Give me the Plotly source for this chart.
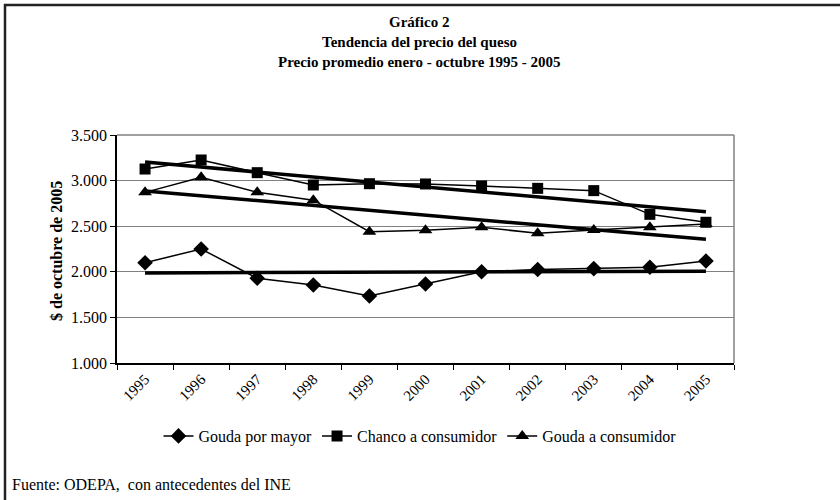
import numpy as np
import plotly.graph_objects as go

years = ["1995", "1996", "1997", "1998", "1999", "2000", "2001", "2002", "2003", "2004", "2005"]
gouda_mayor = [2100, 2250, 1930, 1855, 1735, 1866, 2001, 2025, 2035, 2050, 2118]
chanco_consumidor = [3127, 3226, 3087, 2952, 2966, 2963, 2941, 2915, 2890, 2630, 2543]
gouda_consumidor = [2871, 3036, 2871, 2785, 2440, 2455, 2488, 2422, 2458, 2488, 2525]
y_ticks = [1000, 1500, 2000, 2500, 3000, 3500]

series = [
    ("Gouda por mayor", gouda_mayor, "diamond", 12),
    ("Chanco a consumidor", chanco_consumidor, "square", 11),
    ("Gouda a consumidor", gouda_consumidor, "triangle-up", 12),
]

FONT = "Liberation Serif"
fig = go.Figure()

xi = np.arange(len(years))
for name, vals, sym, sz in series:
    slope, icpt = np.polyfit(xi, np.array(vals, dtype=float), 1)
    trend = slope * xi + icpt
    fig.add_trace(go.Scatter(x=years, y=trend, mode="lines", showlegend=False,
                             line=dict(color="black", width=3.5), hoverinfo="skip"))

for name, vals, sym, sz in series:
    fig.add_trace(go.Scatter(x=years, y=vals, mode="lines+markers", name=name,
                             line=dict(color="black", width=1.5),
                             marker=dict(symbol=sym, size=sz, color="black")))

# plot area geometry
L, R, T, B = 117, 734, 135, 363
W, H = R - L, B - T
def px(x):
    return (x - L) / W
def py(y):
    return (B - y) / H

shapes = [
    dict(type="line", xref="paper", yref="paper", x0=0, x1=1, y0=1, y1=1, line=dict(color="#808080", width=1.5)),
    dict(type="line", xref="paper", yref="paper", x0=1, x1=1, y0=0, y1=1, line=dict(color="#808080", width=1.5)),
    dict(type="line", xref="paper", yref="paper", x0=px(4), x1=px(842), y0=py(5), y1=py(5), line=dict(color="#222", width=2.5)),
    dict(type="line", xref="paper", yref="paper", x0=px(5), x1=px(5), y0=py(4), y1=py(502), line=dict(color="#222", width=2.5)),
]

annotations = [
    dict(text="<b>Gráfico 2</b>", x=px(419), y=py(22), xref="paper", yref="paper", showarrow=False,
         font=dict(family=FONT, size=15, color="black"), xanchor="center", yanchor="middle"),
    dict(text="<b>Tendencia del precio del queso</b>", x=px(419), y=py(42), xref="paper", yref="paper", showarrow=False,
         font=dict(family=FONT, size=15, color="black"), xanchor="center", yanchor="middle"),
    dict(text="<b>Precio promedio enero - octubre 1995 - 2005</b>", x=px(419), y=py(62), xref="paper", yref="paper", showarrow=False,
         font=dict(family=FONT, size=15, color="black"), xanchor="center", yanchor="middle"),
    dict(text="<b>$ de octubre de 2005</b>", x=px(56), y=py(251), xref="paper", yref="paper", showarrow=False,
         textangle=-90, font=dict(family=FONT, size=16, color="black"), xanchor="center", yanchor="middle"),
    dict(text="Fuente: ODEPA,\u00a0 con antecedentes del INE", x=px(10), y=py(484), xref="paper", yref="paper",
         showarrow=False, font=dict(family=FONT, size=16, color="black"), xanchor="left", yanchor="middle"),
]

fig.update_layout(
    width=840, height=500,
    margin=dict(l=L, r=840 - R, t=T, b=500 - B),
    paper_bgcolor="white", plot_bgcolor="white",
    separators=",.",
    font=dict(family=FONT, size=16, color="black"),
    showlegend=True,
    legend=dict(orientation="h", x=px(420), xanchor="center", y=py(436), yanchor="middle",
                font=dict(family=FONT, size=16, color="black"), itemwidth=30, traceorder="normal"),
    shapes=shapes,
    annotations=annotations,
    xaxis=dict(type="category", tickangle=-45, ticks="outside", tickson="boundaries", ticklen=5,
               tickcolor="black", showline=True, linecolor="black", linewidth=1.5, showgrid=False,
               tickfont=dict(family=FONT, size=15, color="black"), range=[-0.5, 10.5]),
    yaxis=dict(range=[1000, 3500], tickvals=y_ticks, tickformat=",.0f", ticks="outside", ticklen=5,
               tickcolor="black", showline=True, linecolor="black", linewidth=1.5,
               showgrid=True, gridcolor="#808080", gridwidth=1, zeroline=False,
               tickfont=dict(family=FONT, size=16, color="black")),
)

fig.write_html("out.html", config={"displayModeBar": False},
               post_script="document.body.style.margin='0';document.body.style.overflow='hidden';")
